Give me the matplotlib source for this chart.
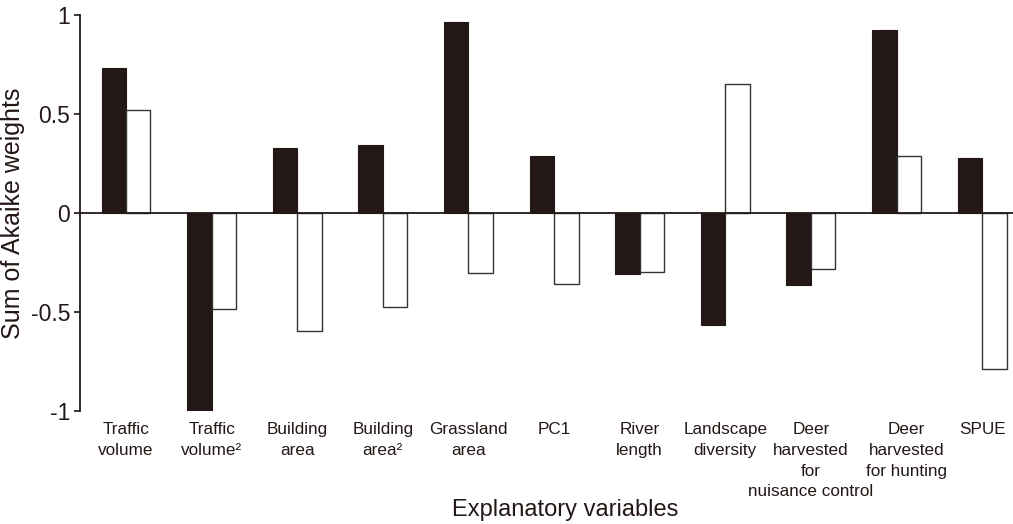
import numpy as np
import matplotlib.pyplot as plt
import matplotlib.transforms as mtransforms

plt.rcParams['font.family'] = ['Liberation Sans', 'DejaVu Sans']

# variáveis explicativas e somas dos pesos de Akaike (duas séries)
variaveis = ['Traffic\nvolume', 'Traffic\nvolume²', 'Building\narea', 'Building\narea²',
             'Grassland\narea', 'PC1', 'River\nlength', 'Landscape\ndiversity',
             'Deer\nharvested\nfor\nnuisance control', 'Deer\nharvested\nfor hunting', 'SPUE']
serie_preta = [0.73, -1.00, 0.33, 0.345, 0.965, 0.29, -0.31, -0.565, -0.365, 0.925, 0.28]
serie_branca = [0.52, -0.485, -0.595, -0.475, -0.305, -0.36, -0.30, 0.65, -0.285, 0.29, -0.79]

fig = plt.figure(figsize=(10.13, 5.24), dpi=100)
ax = fig.add_axes([0.079, 0.2156, 0.921, 0.7558])

x = np.arange(len(variaveis))
larg = 0.286
ax.bar(x - larg / 2, serie_preta, width=larg, color='#231815', edgecolor='#231815',
       linewidth=0.8, zorder=2)
ax.bar(x + larg / 2, serie_branca, width=larg, color='white', edgecolor='#333333',
       linewidth=1.0, zorder=2)

ax.axhline(0, color='#231815', linewidth=1.3, zorder=3)

ax.set_xlim(-0.537, 10.36)
ax.set_ylim(-1.0, 1.0)
ax.set_yticks([-1, -0.5, 0, 0.5, 1])
ax.set_yticklabels(['-1', '-0.5', '0', '0.5', '1'], fontsize=16.5, color='#231815')
ax.tick_params(axis='y', direction='out', length=4, width=1.2, color='#231815', pad=3)

ax.set_xticks(x)
ax.set_xticklabels(variaveis, fontsize=12.3, color='#231815', linespacing=1.48)
ax.tick_params(axis='x', length=0, pad=8)

# o rótulo "Deer harvested for hunting" fica um pouco à direita no original
rotulos = ax.get_xticklabels()
rotulos[9].set_transform(rotulos[9].get_transform() +
                         mtransforms.ScaledTranslation(10 / 100, 0, fig.dpi_scale_trans))

for lado in ['top', 'right', 'bottom']:
    ax.spines[lado].set_visible(False)
ax.spines['left'].set_linewidth(1.3)
ax.spines['left'].set_color('#231815')

ax.set_ylabel('Sum of Akaike weights', fontsize=18, color='#231815', labelpad=4)
fig.text(0.558, 0.027, 'Explanatory variables', fontsize=17, color='#231815',
         ha='center', va='center')

fig.savefig('out.png', dpi=100)
